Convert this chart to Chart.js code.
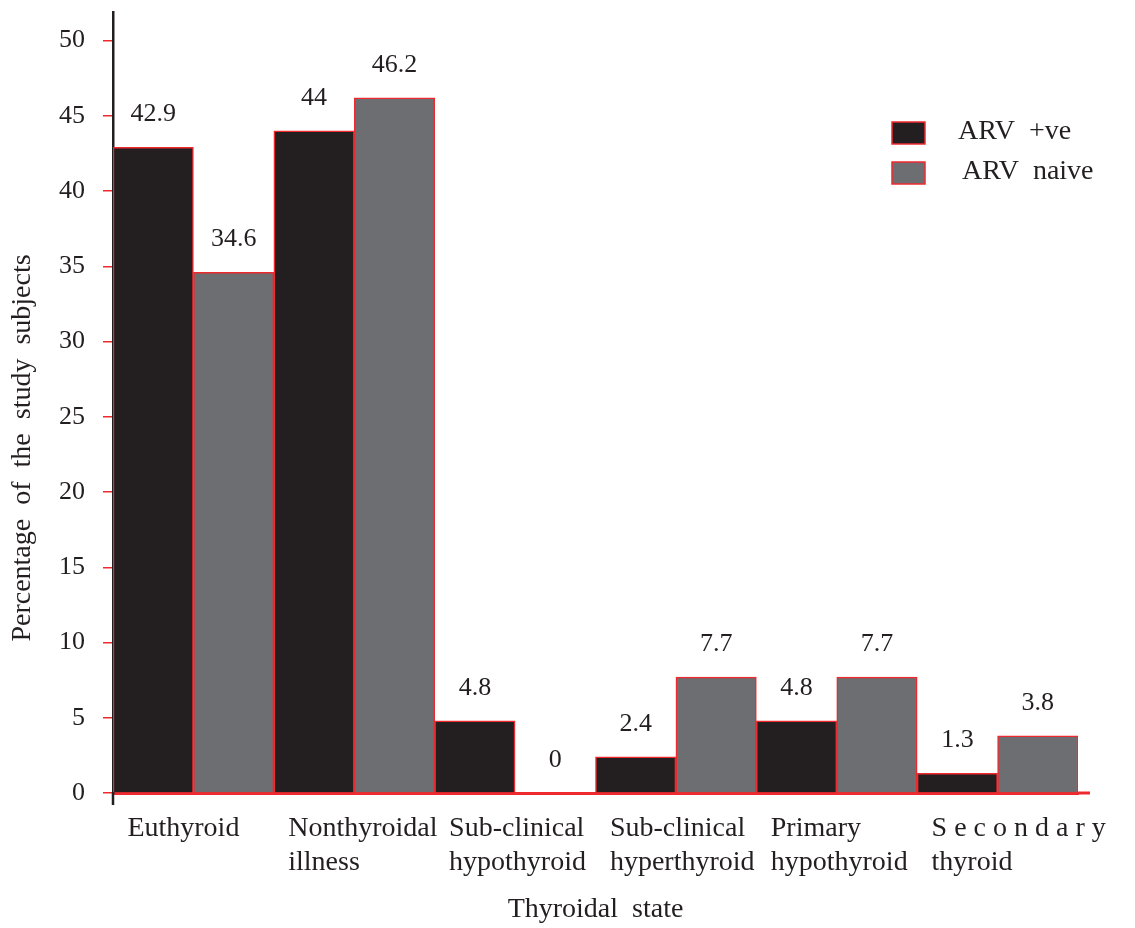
<!DOCTYPE html>
<html lang="en">
<head>
<meta charset="UTF-8">
<title>Thyroidal state by ARV status</title>
<script src="https://cdn.jsdelivr.net/npm/chart.js@4.4.0"></script>
<style>
  html, body { margin: 0; padding: 0; background: #fff; }
  .chart-box { width: 1135px; height: 928px; position: relative; }
</style>
</head>
<body>
<div class="chart-box"><canvas id="thyroidChart"></canvas></div>
<script>
// categories (multi-line labels) and the two series, in percent
const categories = [
  ['Euthyroid'],
  ['Nonthyroidal', 'illness'],
  ['Sub-clinical', 'hypothyroid'],
  ['Sub-clinical', 'hyperthyroid'],
  ['Primary', 'hypothyroid'],
  ['S e c o n d a r y', 'thyroid']
];
const arvPositive = [42.9, 44, 4.8, 2.4, 4.8, 1.3];
const arvNaive = [34.6, 46.2, 0, 7.7, 7.7, 3.8];
const seriesNames = ['ARV  +ve', 'ARV  naive'];
const yTicks = [0, 5, 10, 15, 20, 25, 30, 35, 40, 45, 50];

const SERIF = "'Liberation Serif', 'Times New Roman', serif";
const INK = '#231f20';
const GREY = '#6d6e71';
const RED = '#ee2a2f';

Chart.defaults.font.family = SERIF;
Chart.defaults.color = INK;

// numbers above each bar
const valueLabels = {
  id: 'valueLabels',
  afterDatasetsDraw(chart) {
    const { ctx } = chart;
    ctx.save();
    ctx.font = '26px ' + SERIF;
    ctx.fillStyle = INK;
    ctx.textAlign = 'center';
    ctx.textBaseline = 'bottom';
    chart.data.datasets.forEach((ds, i) => {
      chart.getDatasetMeta(i).data.forEach((bar, j) => {
        ctx.fillText(String(ds.data[j]), bar.x, bar.y - 20);
      });
    });
    ctx.restore();
  }
};

// boxed legend in the upper right, plus the small axis overhangs
const cornerLegend = {
  id: 'cornerLegend',
  afterDraw(chart) {
    const { ctx, chartArea } = chart;
    ctx.save();
    // axis overhangs
    ctx.lineWidth = 2.5;
    ctx.strokeStyle = INK;
    ctx.beginPath();
    ctx.moveTo(chartArea.left, chartArea.bottom);
    ctx.lineTo(chartArea.left, chartArea.bottom + 12);
    ctx.stroke();
    ctx.lineWidth = 3;
    ctx.strokeStyle = RED;
    ctx.beginPath();
    ctx.moveTo(chartArea.right, chartArea.bottom);
    ctx.lineTo(chartArea.right + 12, chartArea.bottom);
    ctx.stroke();

    const x0 = chartArea.right - 186;
    const y0 = chartArea.top + 110;
    ctx.font = '28px ' + SERIF;
    ctx.textBaseline = 'middle';
    ctx.textAlign = 'left';
    chart.data.datasets.forEach((ds, i) => {
      const y = y0 + i * 40;
      ctx.fillStyle = ds.backgroundColor;
      ctx.fillRect(x0, y, 33, 22);
      ctx.lineWidth = 1.5;
      ctx.strokeStyle = RED;
      ctx.strokeRect(x0, y, 33, 22);
      ctx.fillStyle = INK;
      ctx.fillText(ds.label, x0 + 66 + i * 4, y + 10);
    });
    ctx.restore();
  }
};

new Chart(document.getElementById('thyroidChart'), {
  type: 'bar',
  data: {
    labels: categories,
    datasets: [
      { label: seriesNames[0], data: arvPositive, backgroundColor: INK },
      { label: seriesNames[1], data: arvNaive, backgroundColor: GREY }
    ]
  },
  options: {
    responsive: true,
    maintainAspectRatio: false,
    animation: false,
    layout: { padding: { top: 12, right: 57, bottom: 0, left: 0 } },
    datasets: {
      bar: {
        categoryPercentage: 1,
        barPercentage: 1,
        borderColor: RED,
        borderWidth: 1.5
      }
    },
    plugins: {
      legend: { display: false },
      tooltip: { enabled: false }
    },
    scales: {
      x: {
        grid: { display: false },
        border: { color: RED, width: 3 },
        ticks: {
          align: 'start',
          labelOffset: -66,
          padding: 11,
          maxRotation: 0,
          autoSkip: false,
          color: INK,
          font: { size: 28, lineHeight: 1.2 }
        },
        title: {
          display: true,
          text: 'Thyroidal  state',
          color: INK,
          font: { size: 28 },
          padding: { top: 0, bottom: 2 }
        },
        afterFit: (scale) => {
          scale.height = 135;
          // long labels may hang past the plot edge; keep the plot width fixed
          scale.paddingLeft = 0;
          scale.paddingRight = 0;
        }
      },
      y: {
        min: 0,
        max: 51.9,
        afterBuildTicks: (scale) => { scale.ticks = yTicks.map(v => ({ value: v })); },
        grid: { drawOnChartArea: false, color: RED, tickLength: 10, lineWidth: 1.5 },
        border: { color: INK, width: 2.5 },
        ticks: { padding: 18, color: INK, font: { size: 26 } },
        title: {
          display: true,
          // trailing blanks push the centred title a little lower on the axis
          text: 'Percentage  of  the  study  subjects' + ' '.repeat(13),
          color: INK,
          font: { size: 28 },
          padding: { top: 6, bottom: 0 }
        },
        afterFit: (scale) => {
          scale.width = 113;
          scale.paddingTop = 0;
          scale.paddingBottom = 0;
        }
      }
    }
  },
  plugins: [valueLabels, cornerLegend]
});
</script>
</body>
</html>
